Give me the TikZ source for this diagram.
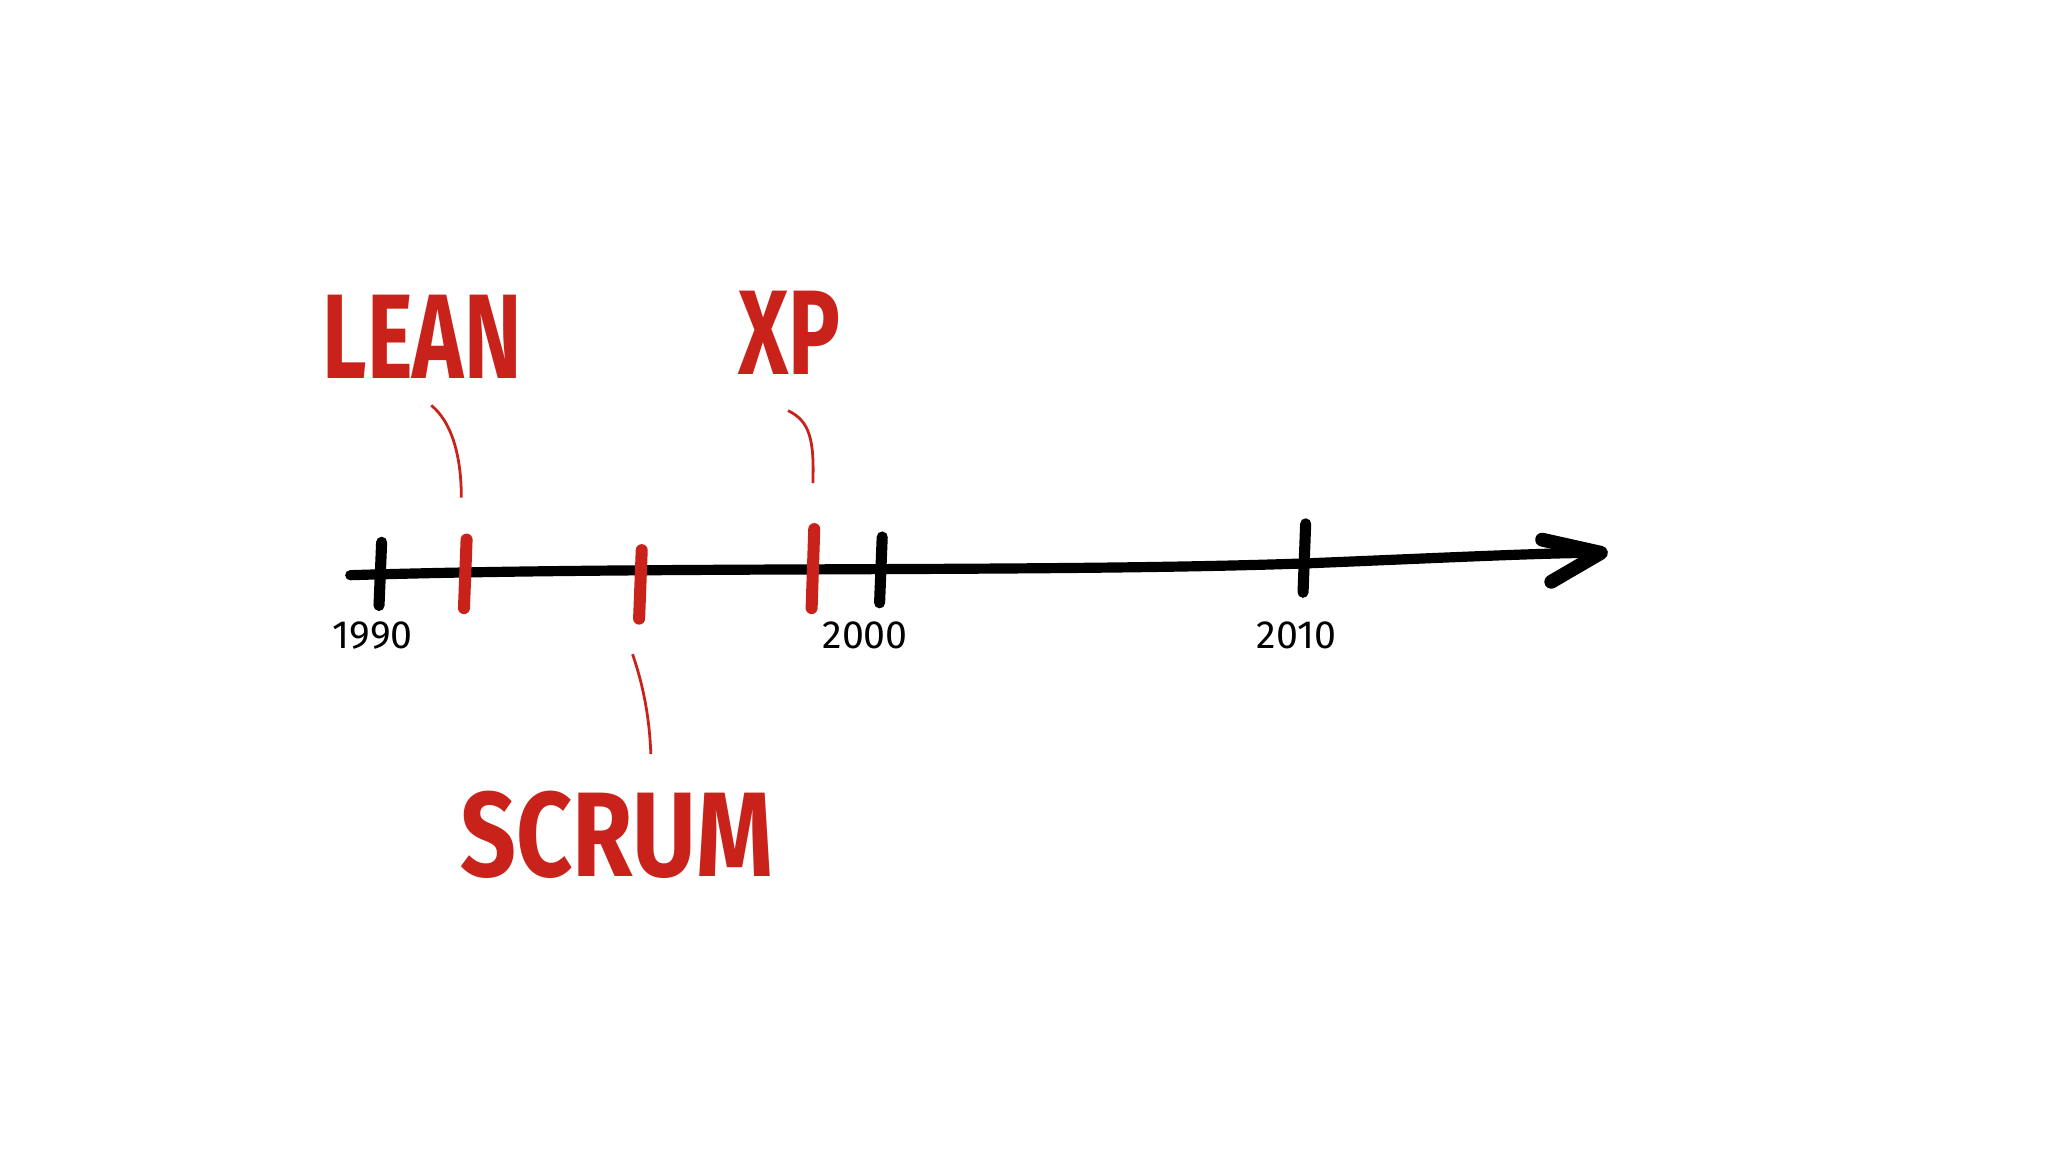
\documentclass[tikz,border=0pt]{standalone}
\usepackage{fontspec}
\setmainfont{Fira Sans}
\definecolor{mred}{HTML}{C8221B}
\begin{document}
\begin{tikzpicture}[x=0.01cm,y=-0.01cm,
  axis/.style={line width=2.2pt,line cap=round,line join=round,black},
  btick/.style={line width=2.4pt,line cap=round,black},
  rtick/.style={line width=2.6pt,line cap=round,mred},
  leader/.style={line width=0.6pt,mred},
  big/.style={text=mred,font=\fontsize{26}{26}\selectfont\bfseries,xscale=0.72},
  yr/.style={font=\fontsize{8.5}{8.5}\selectfont}]
\useasboundingbox[fill=white] (0,0) rectangle (1556,875);
\begin{scope}[xscale=0.993]
\coordinate (a0) at (268,437);
\coordinate (a1) at (1225,420);
\draw[axis] (a0) .. controls (500,430) and (800,435) .. (1000,428) .. controls (1100,424) and (1180,420) .. (a1);
\coordinate (h1) at (1180,410);
\coordinate (h2) at (1187,442);
\draw[axis,line width=3pt] (h1) -- (a1) -- (h2);
\foreach \n/\x/\a/\b in {t1/291/412/460,t2/674/408/458,t3/998/398/450}
  \draw[btick] (\x+1,\a) -- (\x-1,\b);
\foreach \n/\x/\a/\b in {r1/356/410/462,r2/490/418/470,r3/622/402/462}
  \draw[rtick] (\x+1,\a) -- (\x-1,\b);
\node[big] (lean) at (323,256) {LEAN};
\node[big] (xp) at (604,253) {XP};
\node[big,xscale=1.13] (scrum) at (472,634) {SCRUM};
\coordinate (l1) at (330,308); \coordinate (l2) at (353,378);
\coordinate (x1) at (603,312); \coordinate (x2) at (622,367);
\coordinate (s1) at (484,497); \coordinate (s2) at (498,573);
\draw[leader] (l1) .. controls (345,320) and (353,345) .. (l2);
\draw[leader] (x1) .. controls (620,320) and (623,335) .. (x2);
\draw[leader] (s1) .. controls (492,520) and (497,545) .. (s2);
\node[yr] (y1) at (285,483) {1990};
\node[yr] (y2) at (662,483) {2000};
\node[yr] (y3) at (992,483) {2010};
\end{scope}
\end{tikzpicture}
\end{document}
